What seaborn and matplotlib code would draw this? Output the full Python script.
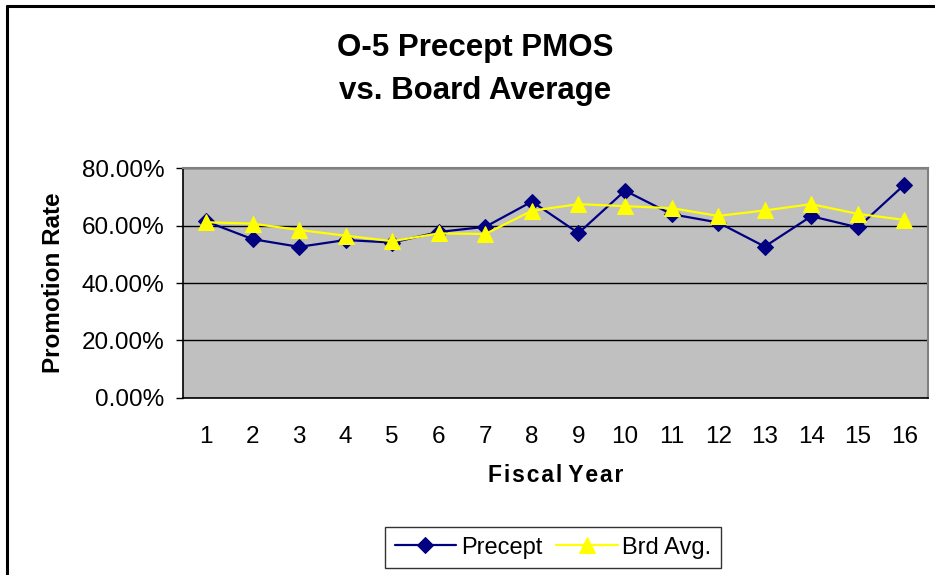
import pandas as pd
import seaborn as sns
import matplotlib.pyplot as plt
from matplotlib.lines import Line2D
from matplotlib.ticker import PercentFormatter, FixedLocator

# Data
years = list(range(1, 17))
precept = [0.615, 0.553, 0.526, 0.550, 0.541, 0.578, 0.596, 0.684,
           0.574, 0.722, 0.640, 0.611, 0.527, 0.633, 0.594, 0.743]
brd_avg = [0.612, 0.607, 0.585, 0.565, 0.546, 0.573, 0.571, 0.652,
           0.675, 0.668, 0.661, 0.634, 0.653, 0.675, 0.641, 0.620]
y_ticks = [0.0, 0.2, 0.4, 0.6, 0.8]

df = pd.DataFrame({"Fiscal Year": years, "Precept": precept, "Brd Avg.": brd_avg})

sns.set_style("white")
plt.rcParams["font.family"] = ["Liberation Sans", "DejaVu Sans"]
plt.rcParams.update({"text.color": "black", "axes.labelcolor": "black",
                     "xtick.color": "black", "ytick.color": "black"})

fig = plt.figure(figsize=(9.35, 5.75), dpi=100)
ax = fig.add_axes([0.1954, 0.3083, 0.7968, 0.399])
ax.set_facecolor("#C0C0C0")

sns.lineplot(data=df, x="Fiscal Year", y="Precept", ax=ax, color="#000080",
             marker="D", markersize=8, markeredgecolor="#000080", linewidth=1.6,
             label="Precept")
sns.lineplot(data=df, x="Fiscal Year", y="Brd Avg.", ax=ax, color="#FFFF00",
             marker="^", markersize=11, markeredgecolor="#FFFF00", linewidth=1.6,
             label="Brd Avg.")

ax.set_xlim(0.5, 16.5)
ax.set_ylim(0, 0.8)
ax.set_yticks(y_ticks)
ax.yaxis.set_major_formatter(PercentFormatter(1.0, decimals=2))
ax.grid(axis="y", color="black", linewidth=1)
ax.set_axisbelow(True)

ax.set_xticks(years)
ax.xaxis.set_minor_locator(FixedLocator([y + 0.5 for y in range(0, 17)]))
ax.tick_params(axis="x", which="major", length=0, pad=20, labelsize=17.5)
ax.tick_params(axis="x", which="minor", length=5, width=1, color="black", direction="out")
ax.tick_params(axis="y", length=5, width=1, color="black", direction="out",
               labelsize=17.5, pad=8, left=True)

for side in ["left", "bottom"]:
    ax.spines[side].set_color("black")
    ax.spines[side].set_linewidth(1.2)
for side in ["top", "right"]:
    ax.spines[side].set_color("#808080")
    ax.spines[side].set_linewidth(1.5)

# slightly spaced-out letters like the original
xlab = " ".join("\u200a".join(w) for w in "Fiscal Year".split())
ax.set_xlabel(xlab, fontsize=16.5, fontweight="bold", labelpad=12)
ax.set_ylabel("Promotion Rate", fontsize=17.5, fontweight="bold", labelpad=12)

fig.text(0.508, 0.879, "O-5 Precept PMOS\nvs. Board Average", ha="center", va="center",
         fontsize=22.5, fontweight="bold", linespacing=1.6)

leg = ax.legend(loc="center", bbox_to_anchor=(0.5915, 0.0475), bbox_transform=fig.transFigure,
                ncol=2, fontsize=17, frameon=True, fancybox=False, edgecolor="black",
                handlelength=2.6, handletextpad=0.2, columnspacing=0.6,
                borderpad=0.4)
leg.get_frame().set_linewidth(1)

# chart area border
fig.add_artist(Line2D([0.0075, 0.0075], [0, 0.9896], transform=fig.transFigure,
                      color="black", linewidth=2.2))
fig.add_artist(Line2D([0.0075, 1.0], [0.9896, 0.9896], transform=fig.transFigure,
                      color="black", linewidth=2.2))

fig.savefig("out.png", dpi=100)
